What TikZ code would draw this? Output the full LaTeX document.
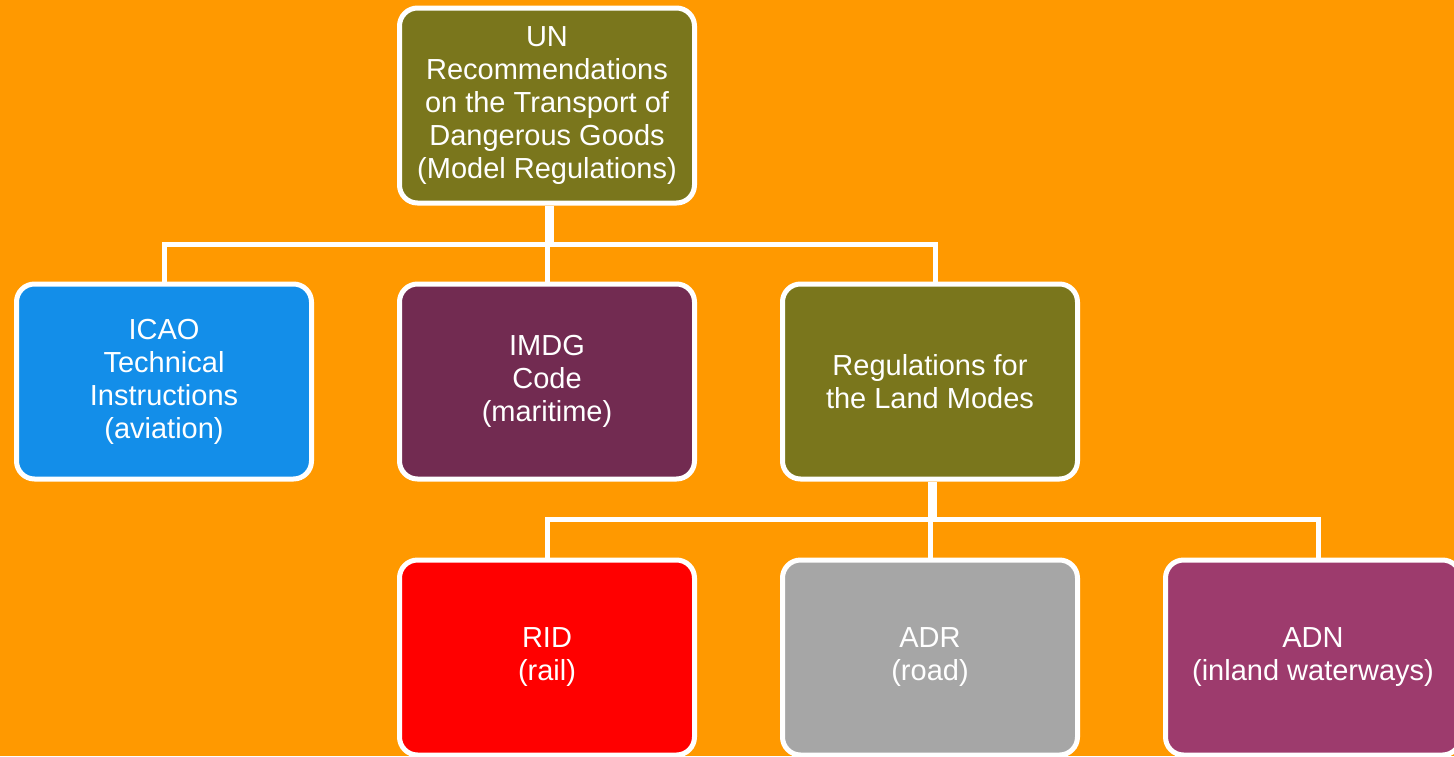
\documentclass[tikz,border=0pt]{standalone}
\usepackage{fontspec}
\setmainfont{Liberation Sans}
\definecolor{bg}{HTML}{FF9900}
\definecolor{olivebox}{HTML}{7A761C}
\definecolor{bluebox}{HTML}{138EE9}
\definecolor{plumbox}{HTML}{722B51}
\definecolor{redbox}{HTML}{FF0000}
\definecolor{greybox}{HTML}{A6A6A6}
\definecolor{mauvebox}{HTML}{9D3B6D}
\begin{document}
\begin{tikzpicture}[x=1pt,y=-1pt,
  box/.style={draw=white, line width=5pt, rounded corners=18pt,
    minimum width=295pt, minimum height=195pt, inner sep=0pt,
    align=center, text=white, font=\fontsize{29}{33}\selectfont},
  link/.style={draw=white, line width=5pt},
  stem/.style={draw=white, line width=9pt}]
\useasboundingbox[fill=bg] (0,0) rectangle (1454,756);
\coordinate (bus1) at (0,244.5);
\coordinate (bus2) at (0,519.5);
\node[box, fill=olivebox] (un) at (547,105.5) {UN\\Recommendations\\on the Transport of\\Dangerous Goods\\(Model Regulations)};
\node[box, fill=bluebox] (icao) at (164,381.5) {ICAO\\Technical\\Instructions\\(aviation)};
\node[box, fill=plumbox] (imdg) at (547,381.5) {IMDG\\Code\\(maritime)};
\node[box, fill=olivebox] (lnd) at (930,381.5) {Regulations for\\the Land Modes};
\node[box, fill=redbox] (rid) at (547,657.5) {RID\\(rail)};
\node[box, fill=greybox] (adr) at (930,657.5) {ADR\\(road)};
\node[box, fill=mauvebox] (adn) at (1313,657.5) {ADN\\(inland waterways)};
% first tier
\draw[stem] ([xshift=2pt]un.south) -- ([xshift=2pt]un.south |- bus1);
\draw[link] (icao.north) |- ([xshift=5pt]lnd.north |- bus1) -- ([xshift=5pt]lnd.north);
\draw[link] (imdg.north) -- (imdg.north |- bus1);
% second tier
\draw[stem] ([xshift=2pt]lnd.south) -- ([xshift=2pt]lnd.south |- bus2);
\draw[link] (rid.north) |- ([xshift=5pt]adn.north |- bus2) -- ([xshift=5pt]adn.north);
\draw[link] (adr.north) -- (adr.north |- bus2);
\end{tikzpicture}
\end{document}
